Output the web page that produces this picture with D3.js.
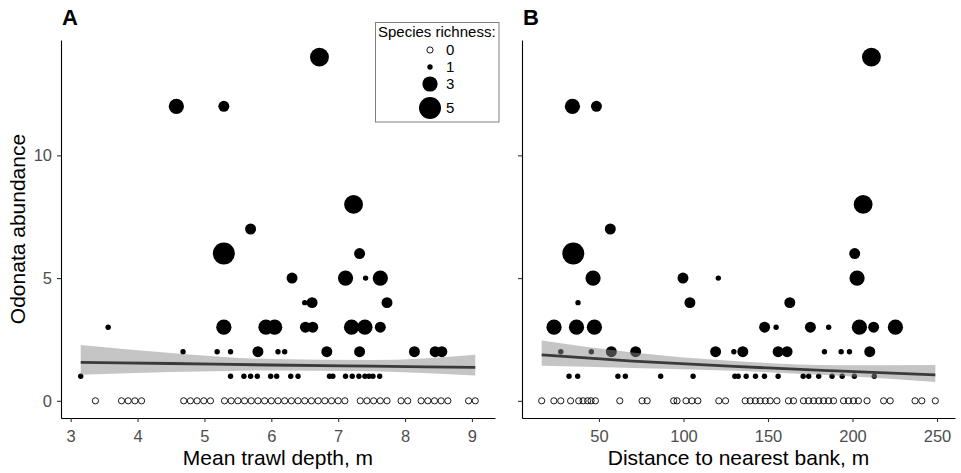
<!DOCTYPE html>
<html>
<head>
<meta charset="utf-8">
<script src="https://cdn.jsdelivr.net/npm/d3@7"></script>
<style>
body { margin: 0; background: #fff; }
svg { display: block; font-family: "Liberation Sans", Arial, sans-serif; }
</style>
</head>
<body>
<svg id="chart" width="961" height="473"></svg>
<script>
// [mean trawl depth (m), odonata abundance, species richness]
const depthPoints = [
	[3.37,0,0],[3.76,0,0],[3.86,0,0],[3.96,0,0],[4.06,0,0],[4.69,0,0],[4.79,0,0],[4.89,0,0],[4.99,0,0],[5.09,0,0],
	[5.3,0,0],[5.4,0,0],[5.5,0,0],[5.6,0,0],[5.7,0,0],[5.8,0,0],[5.9,0,0],[6.0,0,0],[6.1,0,0],[6.2,0,0],
	[6.3,0,0],[6.4,0,0],[6.5,0,0],[6.6,0,0],[6.7,0,0],[6.8,0,0],[6.9,0,0],[7.0,0,0],[7.1,0,0],
	[7.33,0,0],[7.43,0,0],[7.53,0,0],[7.63,0,0],[7.73,0,0],[7.94,0,0],[8.04,0,0],
	[8.24,0,0],[8.34,0,0],[8.44,0,0],[8.54,0,0],[8.64,0,0],[8.95,0,0],[9.05,0,0],
	[3.15,1,1],[5.39,1,1],[5.59,1,1],[5.69,1,1],[5.79,1,1],[5.99,1,1],[6.08,1,1],[6.29,1,1],[6.4,1,1],
	[6.87,1,1],[6.92,1,1],[7.11,1,1],[7.21,1,1],[7.31,1,1],[7.4,1,1],[7.46,1,1],[7.52,1,1],[7.62,1,1],
	[4.68,2,1],[5.19,2,1],[5.39,2,1],[6.1,2,1],[6.2,2,1],
	[5.8,2,2],[6.83,2,2],[7.32,2,2],[8.14,2,2],[8.45,2,2],[8.55,2,2],
	[3.56,3,1],[5.29,3,3],[5.92,3,3],[6.05,3,3],[6.51,3,2],[6.62,3,2],[7.2,3,3],[7.4,3,3],[7.63,3,2],
	[6.5,4,1],[6.61,4,2],[7.73,4,2],
	[6.31,5,2],[7.11,5,3],[7.41,5,1],[7.63,5,3],
	[5.29,6,5],[7.32,6,2],
	[5.69,7,2],
	[7.23,8,4],
	[4.58,12,3],[5.29,12,2],
	[6.72,14,4]
];

// [distance to nearest bank (m), odonata abundance, species richness]
const distancePoints = [
	[16.1,0,0],[23.3,0,0],[27.4,0,0],[33.2,0,0],[38,0,0],[40.6,0,0],[43.3,0,0],[45.3,0,0],[47.9,0,0],
	[62.3,0,0],[75.5,0,0],[78.5,0,0],[94.2,0,0],[96.2,0,0],[101.5,0,0],[105,0,0],[108.5,0,0],
	[120.9,0,0],[124.9,0,0],[136.5,0,0],[139.5,0,0],[142.5,0,0],[145.4,0,0],[148.4,0,0],[151.3,0,0],
	[155.3,0,0],[162.1,0,0],[165.1,0,0],[171,0,0],[174,0,0],[177,0,0],[180,0,0],[182.9,0,0],
	[185.8,0,0],[188.8,0,0],[194.7,0,0],[197.6,0,0],[200.6,0,0],[203.5,0,0],[208.6,0,0],
	[218.4,0,0],[222.3,0,0],[237,0,0],[241,0,0],[249,0,0],
	[32.3,1,1],[37.4,1,1],[61.2,1,1],[65.6,1,1],[86.5,1,1],[105.7,1,1],[130.4,1,1],[132.4,1,1],
	[137.1,1,1],[142.6,1,1],[147.9,1,1],[156,1,1],[170.8,1,1],[174.1,1,1],[180,1,1],[187.9,1,1],
	[193.9,1,1],[201.1,1,1],[212.9,1,1],
	[27.4,2,1],[45.5,2,1],[129.8,2,1],[183.4,2,1],[193.3,2,1],[198.2,2,1],
	[57.3,2,2],[71.7,2,2],[119,2,2],[135.1,2,2],[156,2,2],[161.3,2,2],[210.2,2,2],
	[23.4,3,3],[36.7,3,3],[47.3,3,3],[148,3,2],[154.8,3,1],[175.1,3,2],[185.9,3,1],
	[204.1,3,3],[212.5,3,2],[225.4,3,3],
	[37.6,4,1],[103.8,4,2],[162.9,4,2],
	[46.5,5,3],[99.7,5,2],[120.6,5,1],[202.7,5,3],
	[34.8,6,5],[201.3,6,2],
	[56.7,7,2],
	[206.3,8,4],
	[34.3,12,3],[48.5,12,2],
	[211.2,14,4]
];

// fitted trend and confidence band
const depthFitX = [3.15, 4.5, 6.0, 7.5, 9.05];
const depthFit = [1.57, 1.52, 1.46, 1.41, 1.36];
const depthLow = [1.06, 1.17, 1.24, 1.2, 1.03];
const depthHigh = [2.27, 1.95, 1.7, 1.66, 1.88];

const distanceFitX = [16.1, 70, 130, 190, 249];
const distanceFit = [1.87, 1.62, 1.4, 1.22, 1.06];
const distanceLow = [1.43, 1.34, 1.22, 1.03, 0.77];
const distanceHigh = [2.46, 1.97, 1.62, 1.45, 1.46];

const abundanceTicks = [0, 5, 10];
const depthTicks = [3, 4, 5, 6, 7, 8, 9];
const distanceTicks = [50, 100, 150, 200, 250];
const legendRichness = [0, 1, 3, 5];

const svg = d3.select('#chart');

const plotTop = 40, plotBottom = 418;

let y = d3.scaleLinear()
.domain([-0.7, 14.7])
.range([plotBottom, plotTop]);

let size = d3.scaleSqrt()
.domain([1, 5])
.range([2.7, 11]);

const drawPoint = (sel, r) => {
	if (r === 0) {
		sel.attr('r', 3.1).attr('fill', 'none').attr('stroke', '#000').attr('stroke-width', 0.9);
	} else {
		sel.attr('r', size(r)).attr('fill', '#000');
	}
}

const panels = [
	{ label: 'A', points: depthPoints, fitX: depthFitX, fit: depthFit, low: depthLow, high: depthHigh,
		ticks: depthTicks, title: 'Mean trawl depth, m', left: 61, right: 495, yLabels: true },
	{ label: 'B', points: distancePoints, fitX: distanceFitX, fit: distanceFit, low: distanceLow, high: distanceHigh,
		ticks: distanceTicks, title: 'Distance to nearest bank, m', left: 522, right: 955, yLabels: false }
];

panels.map(p => {

	// ggplot style 5% expansion of the data range
	let ext = d3.extent(p.points, d => d[0]);
	let pad = (ext[1] - ext[0]) * 0.05;

	let x = d3.scaleLinear()
	.domain([ext[0] - pad, ext[1] + pad])
	.range([p.left, p.right]);

	let g = svg.append('g');

	g.selectAll('circle')
	.data(p.points)
	.enter().append('circle')
	.attr('cx', d => x(d[0]))
	.attr('cy', d => y(d[1]))
	.each(function(d) { drawPoint(d3.select(this), d[2]); });

	let band = p.fitX.map((v, i) => [v, p.low[i], p.high[i], p.fit[i]]);

	g.append('path')
	.datum(band)
	.attr('fill', '#8c8c8c')
	.attr('fill-opacity', 0.5)
	.attr('d', d3.area().curve(d3.curveMonotoneX)
		.x(d => x(d[0])).y0(d => y(d[1])).y1(d => y(d[2])));

	g.append('path')
	.datum(band)
	.attr('fill', 'none')
	.attr('stroke', '#3a3a3a')
	.attr('stroke-width', 2.8)
	.attr('d', d3.line().curve(d3.curveMonotoneX)
		.x(d => x(d[0])).y(d => y(d[3])));

	let xAxis = svg.append('g')
	.attr('transform', `translate(0,${plotBottom})`)
	.call(d3.axisBottom(x).tickValues(p.ticks).tickFormat(d3.format('d'))
		.tickSize(4).tickSizeOuter(0).tickPadding(8));

	let yAxis = svg.append('g')
	.attr('transform', `translate(${p.left},0)`)
	.call(d3.axisLeft(y).tickValues(abundanceTicks).tickSize(4).tickSizeOuter(0).tickPadding(5)
		.tickFormat(p.yLabels ? d3.format('d') : () => ''));

	[xAxis, yAxis].map(a => {
		a.select('.domain').attr('stroke', '#000').attr('stroke-width', 1.1);
		a.selectAll('.tick line').attr('stroke', '#333').attr('stroke-width', 1.1);
		a.selectAll('.tick text').attr('fill', '#4d4d4d').style('font-size', '16.5px')
		.style('font-family', '"Liberation Sans", Arial, sans-serif');
	});

	svg.append('text')
	.attr('x', (p.left + p.right) / 2)
	.attr('y', 465)
	.attr('text-anchor', 'middle')
	.style('font-size', '21px')
	.text(p.title);

	svg.append('text')
	.attr('x', p.left + 1)
	.attr('y', 25)
	.style('font-size', '22px')
	.style('font-weight', 'bold')
	.text(p.label);
});

svg.append('text')
.attr('transform', `translate(25,${(plotTop + plotBottom) / 2}) rotate(-90)`)
.attr('text-anchor', 'middle')
.style('font-size', '21px')
.text('Odonata abundance');

// legend
let legend = svg.append('g');

legend.append('rect')
.attr('x', 375.5).attr('y', 22.5)
.attr('width', 123.5).attr('height', 99.5)
.attr('fill', '#fff')
.attr('stroke', '#808080')
.attr('stroke-width', 1);

legend.append('text')
.attr('x', 378).attr('y', 36.5)
.style('font-size', '15px')
.text('Species richness:');

let keyY = d3.scaleOrdinal().domain(legendRichness).range([50, 67, 84, 108]);

legend.selectAll('circle')
.data(legendRichness)
.enter().append('circle')
.attr('cx', 430)
.attr('cy', d => keyY(d))
.each(function(d) { drawPoint(d3.select(this), d); });

legend.selectAll('.key')
.data(legendRichness)
.enter().append('text')
.attr('x', 446)
.attr('y', d => keyY(d))
.attr('dy', '0.36em')
.style('font-size', '15px')
.text(d => d);
</script>
</body>
</html>
